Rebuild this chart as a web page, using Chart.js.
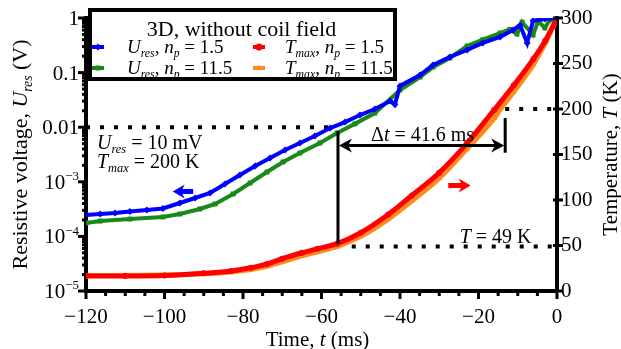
<!DOCTYPE html>
<html>
<head>
<meta charset="utf-8">
<script src="https://cdn.jsdelivr.net/npm/chart.js@4.4.1/dist/chart.umd.min.js"></script>
<style>
  html, body { margin: 0; padding: 0; background: #fff; }
</style>
</head>
<body>
<canvas id="quenchChart" width="621" height="349"></canvas>
<script>
// U_res, n_p = 1.5 (blue)
const tBlue = [-120, -116.4, -112.6, -108.8, -104.5, -100.4, -96.1, -92.2, -88.4, -84.6, -80.8, -76.9, -73.1, -69.3,
  -65.5, -61.7, -57.8, -54, -50.2, -46.4, -42.5, -41.3, -40, -34.9, -31.6, -27.3, -22.9, -18.9, -14.5, -11.2,
  -9.4, -7.6, -6.1, -3.1, 0];
const uBlue = [2.47e-4, 2.57e-4, 2.69e-4, 2.86e-4, 3.05e-4, 3.24e-4, 4.09e-4, 5.05e-4, 6.23e-4, 9.1e-4, 1.33e-3, 1.95e-3, 2.73e-3, 3.82e-3,
  5.14e-3, 6.9e-3, 9.66e-3, 1.24e-2, 1.67e-2, 2.15e-2, 3.02e-2, 2.6e-2, 5.7e-2, 9.0e-2, 0.138, 0.193, 0.26, 0.35, 0.45, 0.60,
  0.74, 0.35, 0.89, 0.96, 1.0];

// U_res, n_p = 11.5 (green)
const tGreen = [-120, -116.4, -108.8, -100.4, -96.1, -91, -87.1, -82.5, -78.2, -73.9, -69.8, -65.5, -60.4, -56, -51.5,
  -46.4, -40, -34.9, -31.6, -27.3, -22.9, -18.9, -14.5, -12, -10.2, -8.9, -6.1, -4.8, -3.1, -1.8, 0];
const uGreen = [1.76e-4, 1.91e-4, 2.08e-4, 2.27e-4, 2.57e-4, 3.18e-4, 3.92e-4, 5.98e-4, 9.5e-4, 1.51e-3, 2.31e-3, 3.37e-3, 5.14e-3, 7.83e-3, 1.15e-2,
  1.82e-2, 4.8e-2, 8.3e-2, 0.126, 0.185, 0.307, 0.40, 0.53, 0.62, 0.51, 0.84, 0.49, 0.88, 0.66, 0.92, 1.0];

// T_max, n_p = 1.5 (red)
const tRed = [-120, -110, -100, -90, -83, -78, -74, -70, -65, -61, -56, -50, -43, -37, -30, -23, -16, -11, -6, -3, 0];
const tempRed = [16.5, 16.5, 17, 19.5, 22, 25.5, 29.5, 35.5, 42, 46.5, 52, 64, 84, 105, 130, 162, 199, 226, 255, 275, 300];

// T_max, n_p = 11.5 (orange)
const tOrange = [-120, -110, -100, -90, -83, -78, -74, -70, -65, -61, -56, -50, -43, -37, -30, -23, -16, -14.4, -11, -6, -3, 0];
const tempOrange = [17, 17, 17.5, 19, 21, 23.5, 27, 32, 38.5, 43, 49, 60, 79, 99, 124, 156, 190, 200, 219, 249, 272, 300];

const timeTicks = [-120, -100, -80, -60, -40, -20, 0];
const voltTicks = [1e-5, 1e-4, 1e-3, 0.01, 0.1, 1];
const tempTicks = [0, 50, 100, 150, 200, 250, 300];

// values used by the annotations
const uThreshold = 0.01;
const tempThreshold = 200;
const tempAtStart = 49;
const tStart = -55.8;
const tStop = -13.2;

const SERIF = "'Liberation Serif', 'Times New Roman', serif";
const BLUE = '#0000ff', GREEN = '#178a17', RED = '#ff0000', ORANGE = '#ff8c1a';

const pts = (xs, ys) => xs.map((x, i) => ({ x: x, y: ys[i] }));

// draws text made of parts: {s, it, sub, sup}
function richWidth(ctx, parts, size) {
  let w = 0;
  parts.forEach((p) => {
    const sz = p.sub || p.sup ? size * 0.62 : size;
    ctx.font = (p.it ? 'italic ' : '') + sz + 'px ' + SERIF;
    w += ctx.measureText(p.s).width;
  });
  return w;
}
function drawRich(ctx, parts, x, y, size, align) {
  let cx = x;
  const w = richWidth(ctx, parts, size);
  if (align === 'center') cx = x - w / 2;
  if (align === 'right') cx = x - w;
  ctx.textBaseline = 'alphabetic';
  ctx.textAlign = 'left';
  parts.forEach((p) => {
    const sz = p.sub || p.sup ? size * 0.62 : size;
    ctx.font = (p.it ? 'italic ' : '') + sz + 'px ' + SERIF;
    let dy = 0;
    if (p.sub) dy = size * 0.22;
    if (p.sup) dy = -size * 0.42;
    ctx.fillText(p.s, cx, y + dy);
    cx += ctx.measureText(p.s).width;
  });
}

function arrowHead(ctx, x, y, dir, len, half) {
  ctx.beginPath();
  ctx.moveTo(x, y);
  ctx.lineTo(x - dir * len, y - half);
  ctx.lineTo(x - dir * len * 0.7, y);
  ctx.lineTo(x - dir * len, y + half);
  ctx.closePath();
  ctx.fill();
}

const overlay = {
  id: 'overlay',
  afterDatasetsDraw(chart) {
    const ctx = chart.ctx;
    const sx = chart.scales.x, sy = chart.scales.y, sT = chart.scales.y2;
    const area = chart.chartArea;
    ctx.save();
    ctx.fillStyle = '#000';
    ctx.strokeStyle = '#000';

    // Delta t construction
    const xa = sx.getPixelForValue(tStart), xb = sx.getPixelForValue(tStop);
    const yArrow = sT.getPixelForValue(160);
    ctx.lineWidth = 3;
    ctx.beginPath();
    ctx.moveTo(xa, sy.getPixelForValue(0.0085));
    ctx.lineTo(xa, sT.getPixelForValue(tempAtStart + 3));
    ctx.moveTo(xb, sT.getPixelForValue(190));
    ctx.lineTo(xb, sT.getPixelForValue(152));
    ctx.moveTo(xa + 6, yArrow);
    ctx.lineTo(xb - 6, yArrow);
    ctx.stroke();
    arrowHead(ctx, xa + 1, yArrow, -1, 13, 7);
    arrowHead(ctx, xb - 1, yArrow, 1, 13, 7);

    drawRich(ctx, [{ s: '\u0394' }, { s: 't', it: true }, { s: ' = 41.6 ms' }], (xa + xb) / 2 + 1, yArrow - 4, 20, 'center');
    drawRich(ctx, [{ s: 'U', it: true }, { s: 'res', it: true, sub: true }, { s: ' = 10 mV' }], area.left + 11, 149, 20, 'left');
    drawRich(ctx, [{ s: 'T', it: true }, { s: 'max', it: true, sub: true }, { s: ' = 200 K' }], area.left + 11, 168, 20, 'left');
    drawRich(ctx, [{ s: 'T', it: true }, { s: ' = 49 K' }], sx.getPixelForValue(-6.5), sT.getPixelForValue(tempAtStart) - 3, 20, 'right');

    // axis direction arrows
    ctx.fillStyle = BLUE;
    ctx.fillRect(sx.getPixelForValue(-96), sy.getPixelForValue(6.8e-4) - 2, sx.getPixelForValue(-92.7) - sx.getPixelForValue(-96), 5);
    arrowHead(ctx, sx.getPixelForValue(-97.9), sy.getPixelForValue(6.8e-4) + 0.5, -1, 12, 7);
    ctx.fillStyle = RED;
    const ry = sT.getPixelForValue(116.5);
    ctx.fillRect(sx.getPixelForValue(-27.7), ry - 2, sx.getPixelForValue(-23.5) - sx.getPixelForValue(-27.7), 5);
    arrowHead(ctx, sx.getPixelForValue(-22), ry + 0.5, 1, 12, 7);

    // legend box
    const bx = area.left + 4, by = 10, bw = 305, bh = 69;
    ctx.fillStyle = '#fff';
    ctx.fillRect(bx, by, bw, bh);
    ctx.lineWidth = 4;
    ctx.strokeStyle = '#000';
    ctx.strokeRect(bx, by, bw, bh);
    ctx.fillStyle = '#000';
    drawRich(ctx, [{ s: '3D, without coil field' }], bx + bw / 2 - 1, by + 26, 22, 'center');
    const items = [
      { c: BLUE, st: 'rectRot', parts: [{ s: 'U', it: true }, { s: 'res', it: true, sub: true }, { s: ', ' }, { s: 'n', it: true }, { s: 'p', it: true, sub: true }, { s: ' = 1.5' }], col: 0, row: 0 },
      { c: GREEN, st: 'rect', parts: [{ s: 'U', it: true }, { s: 'res', it: true, sub: true }, { s: ', ' }, { s: 'n', it: true }, { s: 'p', it: true, sub: true }, { s: ' = 11.5' }], col: 0, row: 1 },
      { c: RED, st: 'circle', parts: [{ s: 'T', it: true }, { s: 'max', it: true, sub: true }, { s: ', ' }, { s: 'n', it: true }, { s: 'p', it: true, sub: true }, { s: ' = 1.5' }], col: 1, row: 0 },
      { c: ORANGE, st: 'triangle', parts: [{ s: 'T', it: true }, { s: 'max', it: true, sub: true }, { s: ', ' }, { s: 'n', it: true }, { s: 'p', it: true, sub: true }, { s: ' = 11.5' }], col: 1, row: 1 }
    ];
    items.forEach((it) => {
      const mx = it.col ? 259 : 98;
      const tx = it.col ? 285 : 127;
      const base = it.row ? 74 : 53;
      const my = base - 6;
      ctx.strokeStyle = it.c;
      ctx.lineWidth = 4;
      ctx.beginPath();
      ctx.moveTo(mx - 6, my);
      ctx.lineTo(mx + 6, my);
      ctx.stroke();
      ctx.fillStyle = it.c;
      Chart.helpers.drawPoint(ctx, { pointStyle: it.st, radius: 3.5, borderWidth: 0, rotation: 0 }, mx, my);
      ctx.fillStyle = '#000';
      drawRich(ctx, it.parts, tx, base, 19, 'left');
    });
    ctx.restore();
  },
  afterDraw(chart) {
    const ctx = chart.ctx;
    const sx = chart.scales.x, sy = chart.scales.y, sT = chart.scales.y2;
    const area = chart.chartArea;
    ctx.save();
    ctx.fillStyle = '#000';
    // x ticks, minor every 5 ms
    for (let t = -120; t <= 0; t += 5) {
      const px = sx.getPixelForValue(t);
      const major = t % 20 === 0;
      ctx.fillRect(px - 1.5, area.bottom, 3, major ? 8 : 5);
    }
    // log ticks on the left
    for (let e = -5; e <= 0; e++) {
      for (let m = 1; m <= 9; m++) {
        const v = m * Math.pow(10, e);
        if (v > 1) break;
        const py = sy.getPixelForValue(v);
        const len = m === 1 ? 8 : 4;
        ctx.fillRect(area.left - len, py - 1.5, len, 3);
      }
    }
    // temperature ticks, across the right axis
    tempTicks.forEach((v) => {
      const py = sT.getPixelForValue(v);
      ctx.fillRect(area.right - 4, py - 1.5, 10, 3);
    });
    // left tick labels
    const sups = { 1e-5: '\u22125', 1e-4: '\u22124', 1e-3: '\u22123' };
    voltTicks.forEach((v) => {
      const py = sy.getPixelForValue(v) + 7;
      if (sups[v]) {
        drawRich(ctx, [{ s: '10' }, { s: sups[v], sup: true }], area.left - 7, py, 21, 'right');
      } else {
        drawRich(ctx, [{ s: String(v) }], area.left - 7, py, 21, 'right');
      }
    });
    // axis titles
    drawRich(ctx, [{ s: 'Time, ' }, { s: 't', it: true }, { s: ' (ms)' }], (area.left + area.right) / 2 - 4, 346, 21, 'center');
    ctx.save();
    ctx.translate(27, (area.top + area.bottom) / 2);
    ctx.rotate(-Math.PI / 2);
    drawRich(ctx, [{ s: 'Resistive voltage, ' }, { s: 'U', it: true }, { s: 'res', it: true, sub: true }, { s: ' (V)' }], 0, 0, 22, 'center');
    ctx.restore();
    ctx.save();
    ctx.translate(617, (area.top + area.bottom) / 2);
    ctx.rotate(-Math.PI / 2);
    drawRich(ctx, [{ s: 'Temperature, ' }, { s: 'T', it: true }, { s: ' (K)' }], 0, 0, 21, 'center');
    ctx.restore();
    ctx.restore();
  }
};

const dotted = (data, axis) => ({
  data: data, yAxisID: axis, borderColor: '#000', borderWidth: 4, borderDash: [4, 10],
  borderCapStyle: 'butt', pointRadius: 0, fill: false, order: 10
});

const myChartElement = document.getElementById('quenchChart').getContext('2d');
const config = {
  type: 'line',
  data: {
    datasets: [
      { label: 'Ures 1.5', data: pts(tBlue, uBlue), yAxisID: 'y', borderColor: BLUE, backgroundColor: BLUE,
        borderWidth: 4, pointStyle: 'rectRot', pointRadius: 3.5, pointBorderWidth: 0, order: 1 },
      { label: 'Ures 11.5', data: pts(tGreen, uGreen), yAxisID: 'y', borderColor: GREEN, backgroundColor: GREEN,
        borderWidth: 4, pointStyle: 'rect', pointRadius: 3.5, pointBorderWidth: 0, order: 2 },
      { label: 'Tmax 1.5', data: pts(tRed, tempRed), yAxisID: 'y2', borderColor: RED, backgroundColor: RED,
        borderWidth: 5, pointStyle: 'circle', pointRadius: 3, pointBorderWidth: 0, order: 3, cubicInterpolationMode: 'monotone' },
      { label: 'Tmax 11.5', data: pts(tOrange, tempOrange), yAxisID: 'y2', borderColor: ORANGE, backgroundColor: ORANGE,
        borderWidth: 5, pointStyle: 'triangle', pointRadius: 3.5, pointBorderWidth: 0, order: 4, cubicInterpolationMode: 'monotone' },
      dotted([{ x: -120, y: uThreshold }, { x: tStart - 1, y: uThreshold }], 'y'),
      dotted([{ x: tStop, y: tempThreshold }, { x: 0, y: tempThreshold }], 'y2'),
      dotted([{ x: tStart + 3.5, y: tempAtStart }, { x: 0, y: tempAtStart }], 'y2')
    ]
  },
  options: {
    responsive: false,
    animation: false,
    devicePixelRatio: 1,
    layout: { padding: { top: 18, left: 0, right: 0, bottom: 0 } },
    plugins: { legend: { display: false }, tooltip: { enabled: false } },
    scales: {
      x: {
        type: 'linear', min: -120, max: 0, position: 'bottom',
        grid: { display: false },
        border: { display: true, width: 4, color: '#000' },
        afterBuildTicks: (s) => { s.ticks = timeTicks.map((v) => ({ value: v })); },
        afterFit: (s) => { s.height = 58; },
        ticks: {
          color: '#000', padding: 6, maxRotation: 0, autoSkip: false,
          font: { family: SERIF, size: 21 },
          callback: (v) => (v < 0 ? '\u2212' + (-v) : String(v))
        }
      },
      y: {
        type: 'logarithmic', min: 1e-5, max: 1, position: 'left',
        grid: { display: false },
        border: { display: true, width: 4, color: '#000' },
        afterBuildTicks: (s) => { s.ticks = voltTicks.map((v) => ({ value: v })); },
        afterFit: (s) => { s.width = 86; },
        ticks: { display: false }
      },
      y2: {
        type: 'linear', min: 0, max: 300, position: 'right',
        grid: { display: false },
        border: { display: true, width: 4, color: '#000' },
        afterBuildTicks: (s) => { s.ticks = tempTicks.map((v) => ({ value: v })); },
        afterFit: (s) => { s.width = 64; },
        ticks: { color: '#000', padding: -4, font: { family: SERIF, size: 21 } }
      }
    }
  },
  plugins: [overlay]
};

new Chart(myChartElement, config);
</script>
</body>
</html>
